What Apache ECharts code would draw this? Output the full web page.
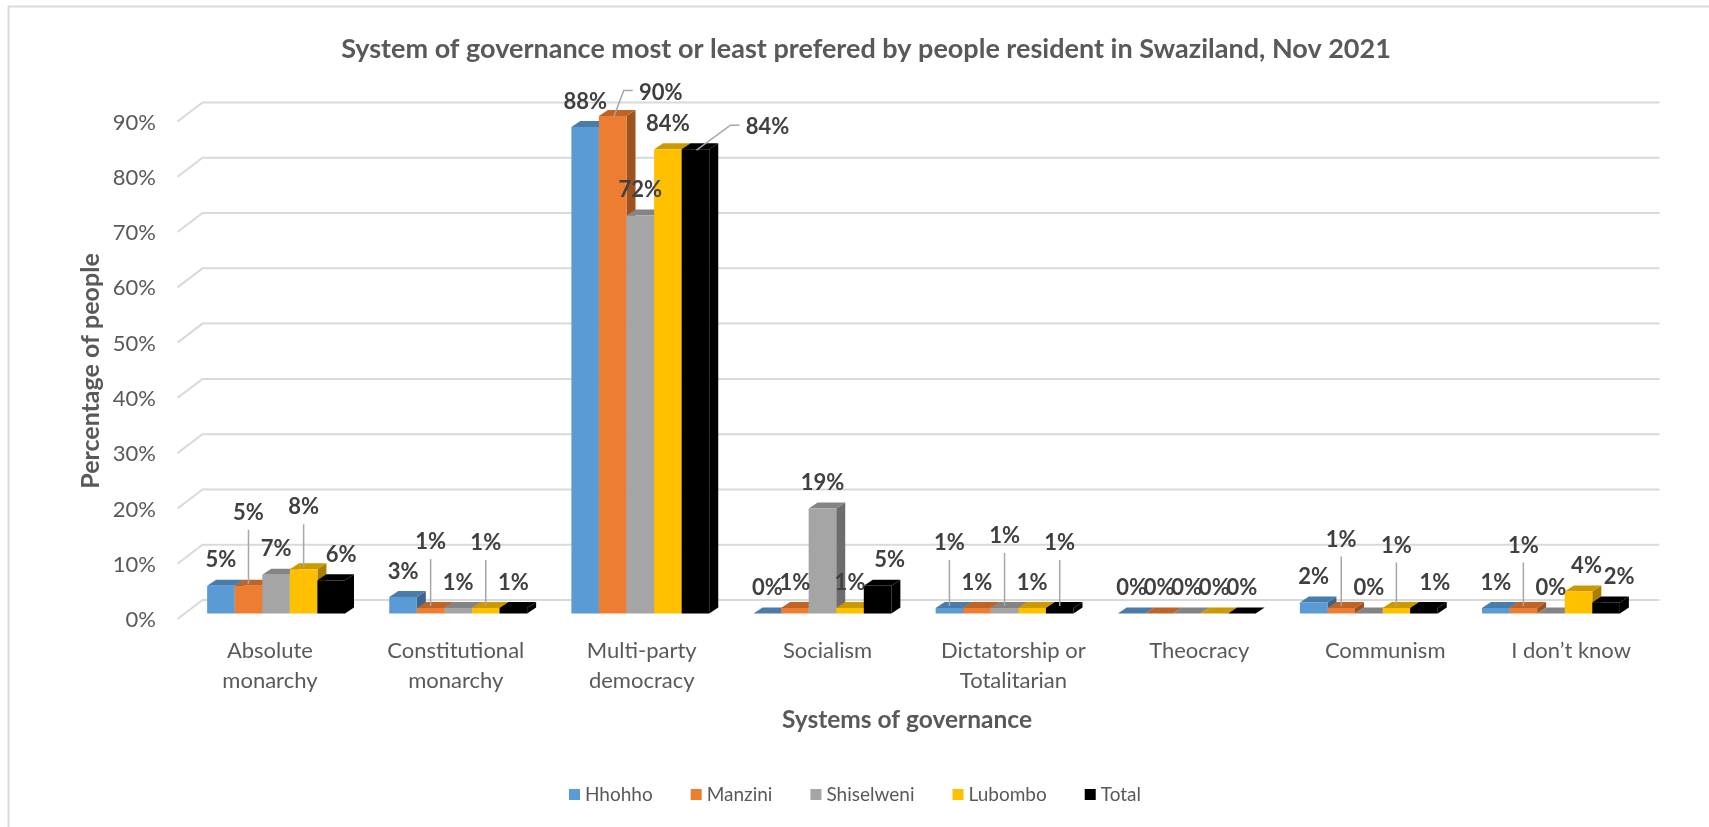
<!DOCTYPE html>
<html>
<head>
<meta charset="utf-8">
<script src="https://cdn.jsdelivr.net/npm/echarts@6/dist/echarts.min.js"></script>
<style>
  html, body { margin: 0; padding: 0; background: #ffffff; }
  #chart { width: 1709px; height: 827px; }
</style>
</head>
<body>
<div id="chart"></div>
<script>
// ---- data ----
const categories = ['Absolute\nmonarchy', 'Constitutional\nmonarchy', 'Multi-party\ndemocracy', 'Socialism',
  'Dictatorship or\nTotalitarian', 'Theocracy', 'Communism', 'I don’t know'];
const regions = ['Hhohho', 'Manzini', 'Shiselweni', 'Lubombo', 'Total'];
const hhohho     = [5, 3, 88, 0, 1, 0, 2, 1];
const manzini    = [5, 1, 90, 1, 1, 0, 1, 1];
const shiselweni = [7, 1, 72, 19, 1, 0, 0, 0];
const lubombo    = [8, 1, 84, 1, 1, 0, 1, 4];
const total      = [6, 1, 84, 5, 1, 0, 1, 2];
const yTicks = [0, 10, 20, 30, 40, 50, 60, 70, 80, 90];

// ---- styling ----
const seriesValues = [hhohho, manzini, shiselweni, lubombo, total];
const colors = ['#5B9BD5', '#ED7D31', '#A5A5A5', '#FFC000', '#000000'];
const FONT = 'Lato, "Noto Sans", sans-serif';
const DEPTH = [9, -6];            // bar depth offset (x, y)
const WALL = [17.5, -13.5];       // back wall offset from the front plane
const EDGE = [-7.5, 5.5];         // front edge of the side wall
const GROUP_FILL = 0.757;         // share of a category band used by the bar cluster

// data label placement (series,category) -> shift / lift / leader line
const labelMoves = {
  '1,0': { lift: 73, leader: 'v' },
  '3,0': { lift: 62, leader: 'v' },
  '4,0': { dx: 10 },
  '1,1': { lift: 66, leader: 'v' },
  '3,1': { lift: 65, leader: 'v' },
  '1,2': { dx: 48, lift: 23.5, leader: 'elbow' },
  '4,2': { dx: 72, lift: 22, leader: 'elbow' },
  '4,3': { dx: 12 },
  '0,4': { lift: 65, leader: 'v' },
  '2,4': { lift: 72, leader: 'v' },
  '4,4': { lift: 65, leader: 'v' },
  '1,6': { lift: 68.5, leader: 'v' },
  '3,6': { lift: 62.5, leader: 'v' },
  '4,6': { dx: 11 },
  '1,7': { lift: 62.5, leader: 'v' },
  '3,7': { dx: 8 },
  '4,7': { dx: 13 }
};

function shade(hex, f) {
  const n = parseInt(hex.slice(1), 16);
  const r = Math.round(((n >> 16) & 255) * f);
  const g = Math.round(((n >> 8) & 255) * f);
  const b = Math.round((n & 255) * f);
  return 'rgb(' + r + ',' + g + ',' + b + ')';
}

function barRenderer(s) {
  return function (params, api) {
    const cat = api.value(0);
    const v = api.value(1);
    const top = api.coord([cat, v]);
    const base = api.coord([cat, 0]);
    const band = api.size([1, 0])[0];
    const groupW = band * GROUP_FILL;
    const barW = groupW / regions.length;
    const x0 = top[0] - groupW / 2 + s * barW;
    const x1 = x0 + barW;
    const yt = top[1], yb = base[1];
    const dx = DEPTH[0], dy = DEPTH[1];
    const col = colors[s];
    const children = [
      { type: 'polygon', z2: s * 10 + 1,
        shape: { points: [[x1, yt], [x1 + dx, yt + dy], [x1 + dx, yb + dy], [x1, yb]] },
        style: { fill: shade(col, 0.66) } },
      { type: 'polygon', z2: s * 10 + 2,
        shape: { points: [[x0, yt], [x0 + dx, yt + dy], [x1 + dx, yt + dy], [x1, yt]] },
        style: { fill: shade(col, 0.8) } },
      { type: 'rect', z2: s * 10 + 3,
        shape: { x: x0, y: yt, width: barW, height: yb - yt },
        style: { fill: col } }
    ];
    const mv = labelMoves[s + ',' + cat] || {};
    const lx = x0 + barW / 2 + (mv.dx || 0);
    const ly = yt - (mv.lift || 25.5);
    if (mv.leader === 'v') {
      children.push({ type: 'polyline', z2: 99,
        shape: { points: [[lx, ly + 17], [lx, yt - 2]] },
        style: { stroke: '#a6a6a6', lineWidth: 1.5, fill: null } });
    } else if (mv.leader === 'elbow') {
      children.push({ type: 'polyline', z2: 99,
        shape: { points: [[lx - 28, ly - 2], [lx - 37, ly - 2], [x0 + barW / 2 + 1, yt + 1]] },
        style: { stroke: '#a6a6a6', lineWidth: 1.5, fill: null } });
    }
    children.push({ type: 'text', z2: 100,
      style: { text: v + '%', x: lx, y: ly, align: 'center', verticalAlign: 'middle',
        font: 'bold 22px ' + FONT, fill: '#404040' } });
    return { type: 'group', children: children };
  };
}

function gridRenderer(params, api) {
  const cs = params.coordSys;
  const y = api.coord([0, api.value(1)])[1];
  return {
    type: 'polyline',
    shape: { points: [
      [cs.x + EDGE[0], y + EDGE[1]],
      [cs.x + WALL[0], y + WALL[1]],
      [cs.x + cs.width + WALL[0], y + WALL[1]]
    ] },
    style: { stroke: '#d9d9d9', lineWidth: 2, fill: null }
  };
}

const chart = echarts.init(document.getElementById('chart'), null, { renderer: 'canvas' });

const series = [{
  type: 'custom',
  name: 'grid',
  xAxisIndex: 0, yAxisIndex: 0,
  z: 1,
  clip: false,
  silent: true,
  renderItem: gridRenderer,
  data: yTicks.map(t => [0, t])
}];
regions.forEach((name, s) => {
  series.push({
    type: 'custom',
    name: name,
    xAxisIndex: 0, yAxisIndex: 0,
    z: 2,
    clip: false,
    itemStyle: { color: colors[s] },
    renderItem: barRenderer(s),
    data: seriesValues[s].map((v, i) => [i, v])
  });
});

chart.setOption({
  animation: false,
  textStyle: { fontFamily: FONT },
  grid: [
    { left: 185, right: 67, top: 116, bottom: 213.5 },
    { left: 177, right: 45, top: 116, bottom: 213.5 }
  ],
  xAxis: [
    { type: 'category', gridIndex: 0, data: categories,
      axisLine: { show: false }, axisTick: { show: false }, axisLabel: { show: false } },
    { type: 'category', gridIndex: 1, data: categories,
      axisLine: { show: false }, axisTick: { show: false },
      axisLabel: { margin: 22, color: '#595959', fontSize: 22, lineHeight: 30, fontFamily: FONT, interval: 0 } }
  ],
  yAxis: [
    { type: 'value', gridIndex: 0, min: 0, max: 90, interval: 10,
      axisLine: { show: false }, axisTick: { show: false }, splitLine: { show: false },
      axisLabel: { formatter: '{value}%', margin: 29, color: '#595959', fontSize: 22,
        fontFamily: FONT, verticalAlign: 'top', lineHeight: 13 } },
    { type: 'value', gridIndex: 1, min: 0, max: 90, show: false }
  ],
  legend: {
    data: regions,
    left: 564, top: 780,
    icon: 'rect', itemWidth: 11, itemHeight: 11, itemGap: 38,
    textStyle: { color: '#595959', fontSize: 19, fontFamily: FONT }
  },
  graphic: [
    { type: 'polyline', silent: true,
      shape: { points: [[8.5, 827], [8.5, 6.5], [1709, 6.5]] },
      style: { stroke: '#d9d9d9', lineWidth: 2, fill: null } },
    { type: 'text', x: 866, y: 49,
      style: { text: 'System of governance most or least prefered by people resident in Swaziland, Nov 2021',
        font: 'bold 27px ' + FONT, fill: '#595959', align: 'center', verticalAlign: 'middle' } },
    { type: 'text', x: 91, y: 371, rotation: Math.PI / 2,
      style: { text: 'Percentage of people', font: 'bold 25px ' + FONT, fill: '#595959',
        align: 'center', verticalAlign: 'middle' } },
    { type: 'text', x: 907, y: 720,
      style: { text: 'Systems of governance', font: 'bold 24.5px ' + FONT, fill: '#595959',
        align: 'center', verticalAlign: 'middle' } }
  ],
  series: series
});
</script>
</body>
</html>
